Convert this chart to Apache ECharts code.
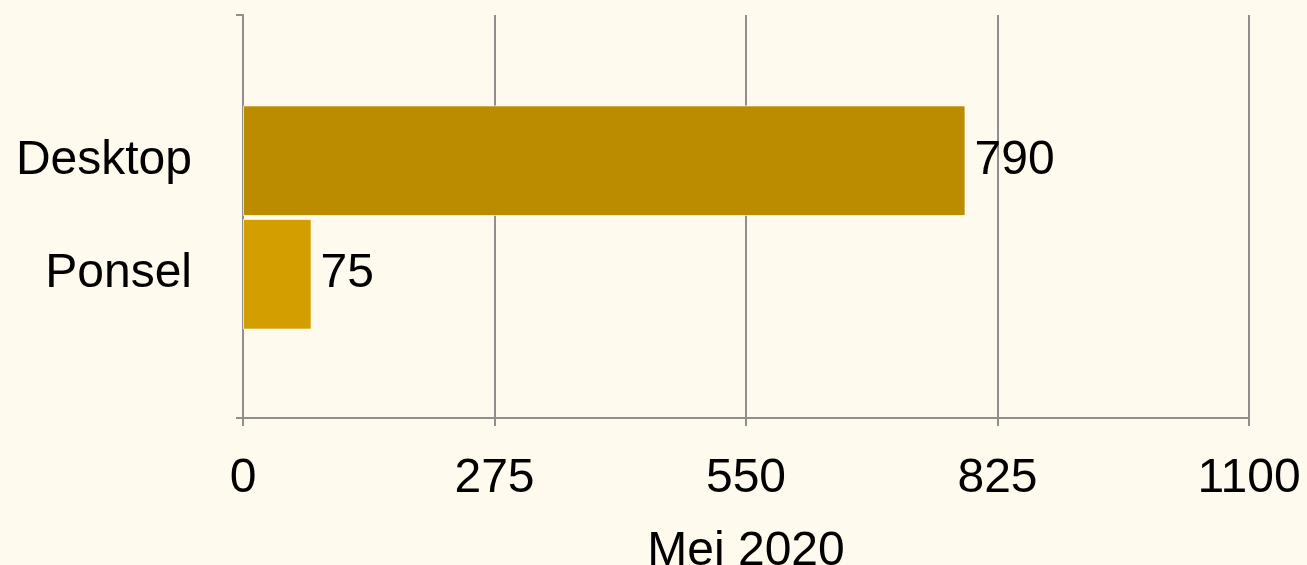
<!DOCTYPE html>
<html>
<head>
<meta charset="utf-8">
<script src="https://cdn.jsdelivr.net/npm/echarts@6/dist/echarts.min.js"></script>
<style>
  html, body { margin: 0; padding: 0; background: #fefaed; }
  #chart { width: 1307px; height: 565px; }
</style>
</head>
<body>
<div id="chart"></div>
<script>
const categories = ["Desktop", "Ponsel"];
const values = [790, 75];
const axisTitle = "Mei 2020";
const axisMax = 1100;
const axisStep = 275;

const barColors = ["#bb8c00", "#d39f00"];
const gray = "#8f8f8f";
const font = "Liberation Sans, Arial, Helvetica, sans-serif";

const chart = echarts.init(document.getElementById("chart"));

const option = {
  backgroundColor: "#fefaed",
  animation: false,
  textStyle: { fontFamily: font },
  grid: [
    // frame, ticks and gridlines
    { left: 243, right: 58, top: 15, bottom: 147, outerBoundsMode: "none", containLabel: false },
    // bars and category names
    { left: 243, right: 58, top: 104, bottom: 234, outerBoundsMode: "none", containLabel: false },
  ],
  xAxis: [
    {
      gridIndex: 0,
      type: "value",
      min: 0,
      max: axisMax,
      interval: axisStep,
      name: axisTitle,
      nameLocation: "middle",
      nameGap: 110,
      nameTextStyle: { fontSize: 48, color: "#000", fontFamily: font },
      axisLine: { show: true, lineStyle: { color: gray, width: 2 } },
      axisTick: { show: true, length: 8, lineStyle: { color: gray, width: 2 } },
      axisLabel: {
        fontSize: 48,
        color: "#000",
        margin: 37,
        fontFamily: font,
        formatter: (v) => String(v),
      },
      splitLine: { show: true, lineStyle: { color: gray, width: 2 } },
    },
    {
      gridIndex: 1,
      type: "value",
      min: 0,
      max: axisMax,
      show: false,
    },
  ],
  yAxis: [
    {
      gridIndex: 0,
      type: "category",
      data: [""],
      axisLine: { show: true, lineStyle: { color: gray, width: 2 } },
      axisTick: { show: true, length: 7, lineStyle: { color: gray, width: 2 } },
      axisLabel: { show: false },
    },
    {
      gridIndex: 1,
      type: "category",
      data: categories,
      inverse: true,
      axisLine: { show: false },
      axisTick: { show: false },
      axisLabel: {
        fontSize: 48,
        color: "#000",
        margin: 51,
        padding: [7, 0, 0, 0],
        fontFamily: font,
      },
    },
  ],
  series: [
    {
      type: "bar",
      xAxisIndex: 1,
      yAxisIndex: 1,
      barCategoryGap: "2.5%",
      data: values.map((v, i) => ({
        value: v,
        itemStyle: { color: barColors[i] },
      })),
      itemStyle: { borderColor: "rgba(255,255,255,0.7)", borderWidth: 1 },
      label: {
        show: true,
        position: "right",
        distance: 9,
        padding: [7, 0, 0, 0],
        fontSize: 48,
        color: "#000",
        fontFamily: font,
      },
    },
  ],
};

chart.setOption(option);
</script>
</body>
</html>
